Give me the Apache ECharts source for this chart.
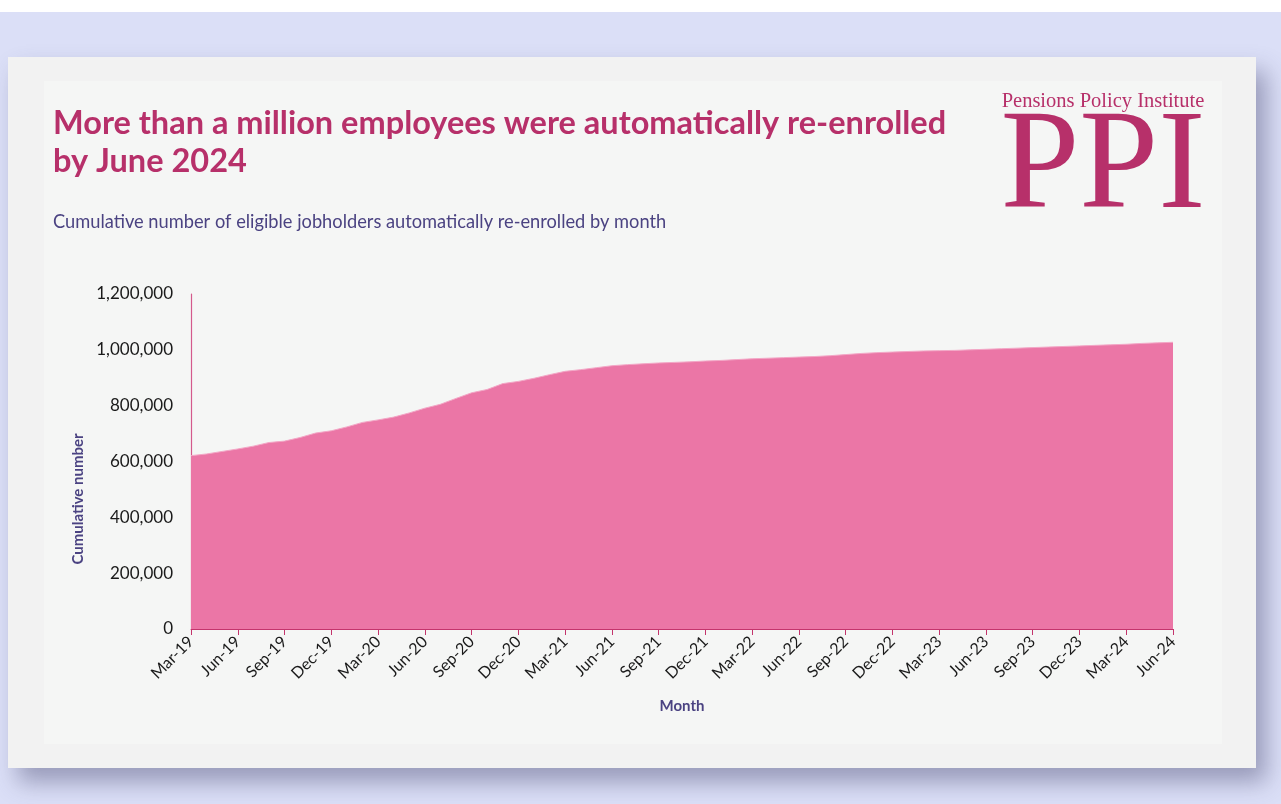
<!DOCTYPE html>
<html>
<head>
<meta charset="utf-8">
<title>Automatic re-enrolment</title>
<script src="https://cdn.jsdelivr.net/npm/echarts@6/dist/echarts.min.js"></script>
<style>
  html, body { margin: 0; padding: 0; background: #dbdff7; }
  #chart { width: 1281px; height: 804px; }
</style>
</head>
<body>
<div id="chart"></div>
<script>
// Month labels, March 2019 to June 2024
const months = [
  'Mar-19','Apr-19','May-19','Jun-19','Jul-19','Aug-19','Sep-19','Oct-19','Nov-19','Dec-19',
  'Jan-20','Feb-20','Mar-20','Apr-20','May-20','Jun-20','Jul-20','Aug-20','Sep-20','Oct-20','Nov-20','Dec-20',
  'Jan-21','Feb-21','Mar-21','Apr-21','May-21','Jun-21','Jul-21','Aug-21','Sep-21','Oct-21','Nov-21','Dec-21',
  'Jan-22','Feb-22','Mar-22','Apr-22','May-22','Jun-22','Jul-22','Aug-22','Sep-22','Oct-22','Nov-22','Dec-22',
  'Jan-23','Feb-23','Mar-23','Apr-23','May-23','Jun-23','Jul-23','Aug-23','Sep-23','Oct-23','Nov-23','Dec-23',
  'Jan-24','Feb-24','Mar-24','Apr-24','May-24','Jun-24'
];

// Cumulative eligible jobholders automatically re-enrolled
const reEnrolled = [
  621000, 627000, 636000, 645000, 655000, 668000, 673000, 686000, 702000, 710000,
  724000, 740000, 749000, 759000, 774000, 791000, 805000, 826000, 846000, 858000, 879000, 887000,
  898000, 911000, 923000, 929000, 936000, 943000, 947000, 950000, 953000, 955000, 957000, 960000,
  962000, 965000, 968000, 970000, 972000, 974000, 976000, 979000, 983000, 987000, 990000, 992000,
  994000, 996000, 997000, 998000, 1000000, 1002000, 1004000, 1006000, 1008000, 1010000, 1012000, 1014000,
  1016000, 1018000, 1020000, 1023000, 1025000, 1027000
];

// Y axis ticks
const yTicks = [0, 200000, 400000, 600000, 800000, 1000000, 1200000];

const titleLines = ['More than a million employees were automatically re-enrolled', 'by June 2024'];
const subtitle = 'Cumulative number of eligible jobholders automatically re-enrolled by month';

const MAGENTA = '#b7306a';
const PURPLE = '#4b4382';
const AXIS_PINK = '#c4346c';

const chart = echarts.init(document.getElementById('chart'), null, { renderer: 'canvas' });

chart.setOption({
  backgroundColor: '#dbdff7',
  animation: false,
  graphic: [
    // white strip along the top edge
    { type: 'rect', z: -10, shape: { x: 0, y: 0, width: 1281, height: 12 }, style: { fill: '#ffffff' } },
    // card with drop shadow
    { type: 'rect', z: -9, shape: { x: 8, y: 57, width: 1248, height: 711 },
      style: { fill: '#f2f2f2', shadowBlur: 22, shadowOffsetX: 10, shadowOffsetY: 14, shadowColor: 'rgba(70,72,110,0.45)' } },
    // inner panel
    { type: 'rect', z: -8, shape: { x: 44, y: 81, width: 1178, height: 663 }, style: { fill: '#f5f6f5' } },
    // headline
    { type: 'text', z: 5, x: 53, y: 124,
      style: { text: titleLines[0], font: 'bold 32.5px Lato', fill: MAGENTA, textAlign: 'left', textVerticalAlign: 'middle' } },
    { type: 'text', z: 5, x: 53, y: 162,
      style: { text: titleLines[1], font: 'bold 32.5px Lato', fill: MAGENTA, textAlign: 'left', textVerticalAlign: 'middle' } },
    // subtitle
    { type: 'text', z: 5, x: 53, y: 222,
      style: { text: subtitle, font: '18.25px Lato', fill: PURPLE, textAlign: 'left', textVerticalAlign: 'middle' } },
    // logo
    { type: 'text', z: 5, x: 1103, y: 102,
      style: { text: 'Pensions Policy Institute', font: '20.5px "Liberation Serif"', fill: MAGENTA, textAlign: 'center', textVerticalAlign: 'middle' } },
    { type: 'text', z: 5, x: 1103, y: 241,
      style: { text: 'PPI', font: '142px "Liberation Serif"', fill: MAGENTA, textAlign: 'center', textVerticalAlign: 'bottom' } },
    // y axis title
    { type: 'text', z: 5, x: 78, y: 499, rotation: Math.PI / 2,
      style: { text: 'Cumulative number', font: 'bold 15px Lato', fill: PURPLE, textAlign: 'center', textVerticalAlign: 'middle' } }
  ],
  grid: { left: 191, right: 108, top: 294, bottom: 175, containLabel: false },
  xAxis: {
    type: 'category',
    data: months,
    boundaryGap: false,
    name: 'Month',
    nameLocation: 'middle',
    nameGap: 70,
    nameTextStyle: { fontFamily: 'Lato', fontWeight: 'bold', fontSize: 15, color: PURPLE },
    axisLine: { show: true, lineStyle: { color: AXIS_PINK, width: 1 } },
    axisTick: { show: true, interval: 2, length: 6, lineStyle: { color: AXIS_PINK } },
    axisLabel: { interval: 2, rotate: 45, margin: 10, fontFamily: 'Lato', fontSize: 16, color: '#1a1a1a' },
    splitLine: { show: false }
  },
  yAxis: {
    type: 'value',
    min: yTicks[0],
    max: yTicks[yTicks.length - 1],
    interval: yTicks[1] - yTicks[0],
    axisLine: { show: true, lineStyle: { color: '#d45a8c', width: 1.2 } },
    axisTick: { show: false },
    splitLine: { show: false },
    axisLabel: {
      margin: 18, fontFamily: 'Lato', fontSize: 17, color: '#1a1a1a',
      formatter: v => v.toLocaleString('en-GB')
    }
  },
  series: [{
    type: 'line',
    data: reEnrolled,
    symbol: 'none',
    lineStyle: { width: 1, color: '#f3a7c6' },
    areaStyle: { color: '#eb76a6', opacity: 1 },
    z: 2
  }]
});
</script>
</body>
</html>
